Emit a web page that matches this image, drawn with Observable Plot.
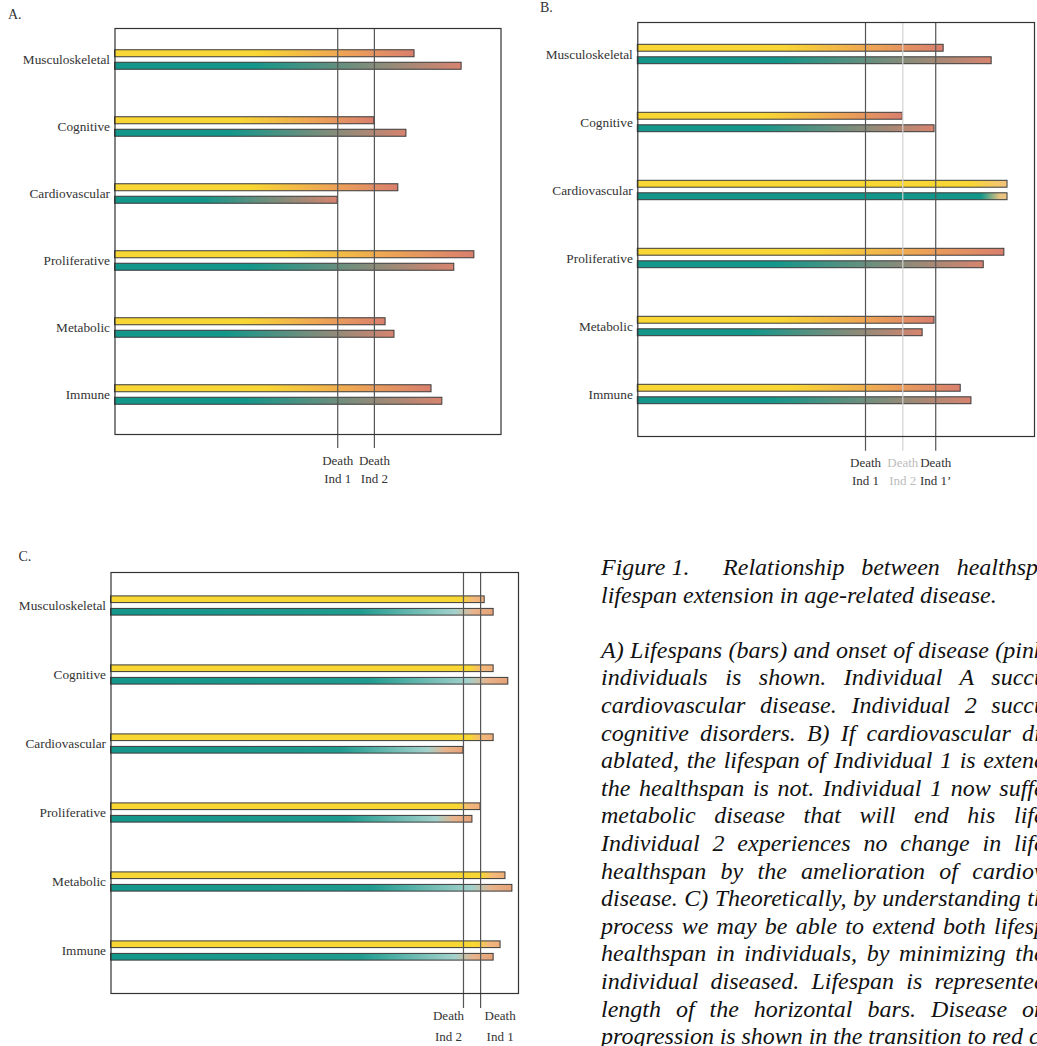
<!DOCTYPE html>
<html><head><meta charset="utf-8">
<script src="https://cdn.jsdelivr.net/npm/d3@7"></script>
<script src="https://cdn.jsdelivr.net/npm/@observablehq/plot@0.6"></script>
<style>
html,body{margin:0;padding:0;overflow:hidden;background:#fff;width:1037px;height:1046px}
#root{position:relative;width:1037px;height:1046px;overflow:hidden;background:#fff}
.panel{position:absolute}
.letter{position:absolute;font-family:"Liberation Serif","Times New Roman",Times,Tinos,"DejaVu Serif",serif;font-size:14px;line-height:14px;color:#333}
#caption{position:absolute;left:601px;top:554px;width:700px;font-family:"Liberation Serif","Times New Roman",Times,Tinos,"DejaVu Serif",serif;font-style:italic;font-size:24px;line-height:27.6px;color:#111}
#caption div{white-space:pre;height:27.6px}
</style></head><body><div id="root"></div>
<script>
const SERIF = '"Liberation Serif", "Times New Roman", Times, Tinos, "DejaVu Serif", serif';
const categories = ["Musculoskeletal","Cognitive","Cardiovascular","Proliferative","Metabolic","Immune"];

// Panel A (x in arbitrary lifespan units, frame = 0..100)
const aYellow = [77.6, 67.2, 73.4, 93.1, 70.1, 82.0];
const aTeal   = [89.8, 75.5, 57.7, 87.9, 72.4, 84.8];
const aDeathValues = [57.7, 67.2];
const aDeathLabels = ["Death\nInd 1", "Death\nInd 2"];

// Panel B
const bYellow = [77.1, 66.8, 93.2, 92.4, 74.8, 81.4];
const bTeal   = [89.2, 74.8, 93.2, 87.2, 71.8, 84.1];
const bDeathValues = [57.4, 66.8, 75.1];
const bDeathLabels = ["Death\nInd 1", "Death\nInd 2", "Death\nInd 1\u2019"];

// Panel C
const cYellow = [91.7, 93.9, 93.9, 90.7, 96.8, 95.6];
const cTeal   = [93.9, 97.5, 86.5, 88.7, 98.5, 93.9];
const cDeathValues = [86.5, 90.7];
const cDeathLabels = ["Death\nInd 2", "Death\nInd 1"];

const panelLetters = ["A.", "B.", "C."];

const captionLines = [
  ["Figure 1.  Relationship between healthsp", ""],
  ["lifespan extension in age-related disease.", null],
  ["", null],
  ["A) Lifespans (bars) and onset of disease (pin", "k"],
  ["individuals is shown. Individual A succ", "u"],
  ["cardiovascular disease. Individual 2 succ", "u"],
  ["cognitive disorders. B) If cardiovascular d", "isease"],
  ["ablated, the lifespan of Individual 1 is exten", "d"],
  ["the healthspan is not. Individual 1 now suff", "e"],
  ["metabolic disease that will end his lif", "e"],
  ["Individual 2 experiences no change in lif", "e"],
  ["healthspan by the amelioration of cardio", "v"],
  ["disease. C) Theoretically, by understanding t", "h"],
  ["process we may be able to extend both lifes", "p"],
  ["healthspan in individuals, by minimizing th", "e"],
  ["individual diseased. Lifespan is represente", "d"],
  ["length of the horizontal bars. Disease o", "n"],
  ["progression is shown in the transition to red", " c"]
];

const root = document.getElementById("root");

// gradients
root.insertAdjacentHTML("beforeend", `<svg width="0" height="0" style="position:absolute"><defs>
<linearGradient id="gY"><stop offset="0" stop-color="#f8d633"/><stop offset="0.48" stop-color="#f8d633"/><stop offset="0.76" stop-color="#eea555"/><stop offset="1" stop-color="#d97f6e"/></linearGradient>
<linearGradient id="gT"><stop offset="0" stop-color="#13978a"/><stop offset="0.4" stop-color="#13978a"/><stop offset="1" stop-color="#d7846f"/></linearGradient>
<linearGradient id="gY2"><stop offset="0" stop-color="#f8d633"/><stop offset="0.9" stop-color="#f8d633"/><stop offset="1" stop-color="#f1c27e"/></linearGradient>
<linearGradient id="gT2"><stop offset="0" stop-color="#13978a"/><stop offset="0.93" stop-color="#13978a"/><stop offset="0.98" stop-color="#e6c280"/><stop offset="1" stop-color="#ecc584"/></linearGradient>
<linearGradient id="gY3"><stop offset="0" stop-color="#f8d633"/><stop offset="0.94" stop-color="#f8d633"/><stop offset="0.97" stop-color="#f3b97a"/><stop offset="1" stop-color="#eeae7a"/></linearGradient>
<linearGradient id="gT3"><stop offset="0" stop-color="#13978a"/><stop offset="0.65" stop-color="#1f9b8f"/><stop offset="0.9" stop-color="#a3d1cb"/><stop offset="0.95" stop-color="#e8b38b"/><stop offset="1" stop-color="#e6a278"/></linearGradient>
</defs></svg>`);

function panel(cfg) {
  const {yellow, teal, deathValues, deathLabels, width, height, mL, mR, mT, mB, yRange, grads, ruleExt, labelDy, lineHeight, deathStyle} = cfg;
  const bw = (yRange[1] - yRange[0]) / categories.length;
  const barH = 7, sep = 6.25;
  const inset = (bw - barH) / 2;
  const marks = [];
  const addBars = (vals, key, dy) => {
    const rows = categories.map((c, i) => ({category: c, value: vals[i], grad: grads(key, c)}));
    for (const [g, rs] of d3.groups(rows, d => d.grad)) {
      marks.push(Plot.barX(rs, {x: "value", y: "category", fill: `url(#${g})`, stroke: "#3a3a3a", strokeWidth: 1, insetTop: inset, insetBottom: inset, dy}));
    }
  };
  addBars(yellow, "Y", -sep);
  addBars(teal, "T", sep);
  const deaths = deathValues.map((v, i) => ({value: v, label: deathLabels[i], st: deathStyle(i)}));
  for (const d of deaths) {
    marks.push(Plot.ruleX([d], {x: "value", stroke: d.st.stroke, strokeWidth: 1.2, insetBottom: -ruleExt}));
  }
  marks.push(Plot.frame({stroke: "#333", strokeWidth: 1.2}));
  for (const d of deaths) {
    marks.push(Plot.text([d], {x: "value", text: "label", frameAnchor: "bottom", lineAnchor: "top", dy: labelDy, dx: d.st.dx, lineHeight, fontSize: 13, fill: d.st.fill}));
  }
  return Plot.plot({
    width, height, marginLeft: mL, marginRight: mR, marginTop: mT, marginBottom: mB,
    x: {domain: [0, 100], axis: null},
    y: {domain: categories, range: yRange, padding: 0, tickSize: 0, tickPadding: 5, label: null},
    style: {fontFamily: SERIF, fontSize: "13.3px", color: "#333", background: "transparent", maxWidth: "none", overflow: "visible"},
    marks
  });
}

function place(svg, left, top) {
  const d = document.createElement("div");
  d.className = "panel";
  d.style.left = left + "px"; d.style.top = top + "px";
  d.appendChild(svg);
  root.appendChild(d);
}

const normal = i => ({stroke: "#555", fill: "#333", dx: 0});

place(panel({
  yellow: aYellow, teal: aTeal, deathValues: aDeathValues, deathLabels: aDeathLabels,
  width: 520, height: 500, mL: 114.5, mR: 19.5, mT: 28, mB: 66, yRange: [25.5, 427.5],
  grads: (k, c) => k === "Y" ? "gY" : "gT", ruleExt: 14, labelDy: 18, lineHeight: 18 / 13, deathStyle: normal
}), 0, 0);

place(panel({
  yellow: bYellow, teal: bTeal, deathValues: bDeathValues, deathLabels: bDeathLabels,
  width: 507, height: 500, mL: 107.3, mR: 3, mT: 22, mB: 64, yRange: [19.95, 428.55],
  grads: (k, c) => c === "Cardiovascular" ? (k === "Y" ? "gY2" : "gT2") : (k === "Y" ? "gY" : "gT"),
  ruleExt: 14.7, labelDy: 17.6, lineHeight: 18 / 13,
  deathStyle: i => i === 1 ? {stroke: "#d2d2d2", fill: "#bdbdbd", dx: 0} : normal(i)
}), 530, 0);

place(panel({
  yellow: cYellow, teal: cTeal, deathValues: cDeathValues, deathLabels: cDeathLabels,
  width: 530, height: 516, mL: 110.5, mR: 12, mT: 42, mB: 53, yRange: [40.35, 456.15],
  grads: (k, c) => k === "Y" ? "gY3" : "gT3", ruleExt: 15, labelDy: 11.8, lineHeight: 21 / 13,
  deathStyle: i => ({stroke: "#555", fill: "#333", dx: i === 0 ? -15 : 19.5})
}), 0, 530);

// panel letters
[[8, 8.3], [540, 1.3], [18.5, 550.3]].forEach(([l, t], i) => {
  const d = document.createElement("div");
  d.className = "letter";
  d.style.left = l + "px"; d.style.top = t + "px";
  d.textContent = panelLetters[i];
  root.appendChild(d);
});

// caption
const cap = document.createElement("div");
cap.id = "caption";
root.appendChild(cap);
captionLines.forEach(([main, tail], i) => {
  const line = document.createElement("div");
  const s = document.createElement("span");
  if (i === 0) {
    const nj = document.createElement("span");
    nj.style.wordSpacing = "0px";
    nj.textContent = "Figure 1.";
    s.appendChild(nj);
    s.appendChild(document.createTextNode(main.slice(9)));
  } else {
    s.textContent = main;
  }
  line.appendChild(s);
  if (tail !== null && tail !== undefined && tail !== "") {
    const t = document.createElement("span");
    t.textContent = tail;
    line.appendChild(t);
  }
  cap.appendChild(line);
  if (tail !== null && main.length) {
    const right = i === 0 ? 1038 : (i === 17 ? 1023 : 1034);
    const w = s.getBoundingClientRect().width;
    let n = (main.match(/ /g) || []).length;
    if (i === 0) n -= 1;
    const ws = (right - 601 - w) / n;
    s.style.wordSpacing = ws + "px";
  }
});
</script></body></html>
